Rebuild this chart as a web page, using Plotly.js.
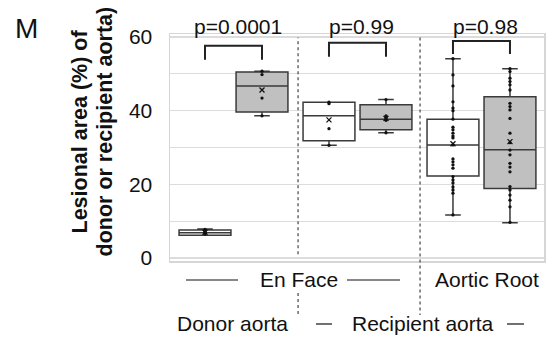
<!DOCTYPE html>
<html>
<head>
<meta charset="utf-8">
<script src="https://cdn.plot.ly/plotly-3.0.1.min.js"></script>
<style>
  html, body { margin: 0; padding: 0; background: #fff; }
  #chart { width: 552px; height: 339px; }
</style>
</head>
<body>
<div id="chart"></div>
<script>
// Box order: (donor aorta, en face) open/shaded, (recipient aorta, en face) open/shaded,
// (recipient aorta, aortic root) open/shaded
const groupIndex = [0, 0, 1, 1, 2, 2];
const memberIndex = [0, 1, 0, 1, 0, 1];
const boxFill = ['#ffffff', '#c0c0c0', '#ffffff', '#c0c0c0', '#ffffff', '#c0c0c0'];

// Summary statistics (% lesional area)
const q1Values = [6.2, 39.6, 31.8, 34.8, 22.3, 18.9];
const medianValues = [6.9, 46.7, 38.6, 37.7, 30.7, 29.4];
const q3Values = [7.6, 50.5, 42.3, 41.6, 37.7, 43.8];
const lowerValues = [6.2, 38.6, 30.6, 34.0, 11.7, 9.6];
const upperValues = [7.9, 50.7, 42.3, 43.0, 54.1, 51.4];
const meanValues = [7.0, 45.6, 37.5, 37.9, 31.0, 31.6];

// Individual animals
const pointsDonorOpen = [6.5, 6.9, 7.2, 7.8];
const pointsDonorShaded = [38.6, 43.4, 49.8, 50.7];
const pointsEnFaceOpen = [30.6, 35.1, 41.9, 42.3];
const pointsEnFaceShaded = [34.0, 37.4, 37.8, 38.3, 38.6, 43.0];
const pointsRootOpen = [54.1, 49.7, 46.7, 42.4, 40.7, 40.0, 37.7, 35.5, 34.8, 33.9, 33.1, 32.6,
  30.7, 26.9, 26.1, 25.3, 24.4, 22.1, 21.2, 20.4, 19.3, 18.5, 17.6, 11.7];
const pointsRootShaded = [51.4, 50.6, 48.8, 47.9, 47.0, 45.6, 42.0, 41.1, 40.2, 37.9, 33.9, 31.3,
  29.3, 28.0, 25.7, 24.7, 23.4, 19.4, 18.5, 17.1, 15.7, 13.9, 9.7];
const pointSets = [pointsDonorOpen, pointsDonorShaded, pointsEnFaceOpen,
  pointsEnFaceShaded, pointsRootOpen, pointsRootShaded];

// Comparisons between the two boxes of each pair
const pLabels = ['p=0.0001', 'p=0.99', 'p=0.98'];
const bracketTop = [57.6, 58.4, 58.9];
const bracketLeg = [53.8, 54.6, 55.4];

const yTicks = [0, 20, 40, 60];
const yMinorTicks = [10, 30, 50];
const yTitleLines = ['Lesional area (%) of', 'donor or recipient aorta)'];

// ---- layout helpers ----
const GROUP_STEP = 2.175;
const pos = groupIndex.map((g, i) => g * GROUP_STEP + memberIndex[i]);
const FONT = 'Liberation Sans, Arial, Helvetica, sans-serif';
const EDGE = '#3a3a3a';

const traces = [];
pos.forEach((x, i) => {
  traces.push({
    type: 'box', orientation: 'v',
    x: [x], q1: [q1Values[i]], median: [medianValues[i]], q3: [q3Values[i]],
    lowerfence: [lowerValues[i]], upperfence: [upperValues[i]],
    boxpoints: false, width: 0.91, whiskerwidth: 0.3,
    fillcolor: boxFill[i], line: { color: EDGE, width: 1.5 },
    hoverinfo: 'skip'
  });
});
pos.forEach((x, i) => {
  traces.push({
    type: 'scatter', mode: 'markers',
    x: pointSets[i].map(() => x), y: pointSets[i],
    marker: { size: 3.3, color: '#111' }, hoverinfo: 'skip'
  });
  traces.push({
    type: 'scatter', mode: 'markers',
    x: [x], y: [meanValues[i]],
    marker: { symbol: 'x-thin-open', size: 5, color: '#111', line: { width: 1.3, color: '#111' } },
    hoverinfo: 'skip'
  });
});

const shapes = [];
const annotations = [];

// comparison brackets and p-values
for (let g = 0; g < 3; g++) {
  const a = g * GROUP_STEP, b = a + 1;
  shapes.push({
    type: 'path', xref: 'x', yref: 'y',
    path: `M ${a} ${bracketLeg[g]} L ${a} ${bracketTop[g]} L ${b} ${bracketTop[g]} L ${b} ${bracketLeg[g]}`,
    line: { color: '#222', width: 2 }
  });
  annotations.push({
    xref: 'x', yref: 'paper', x: (a + b) / 2, y: 1.031, xshift: 4,
    text: pLabels[g], showarrow: false, xanchor: 'center', yanchor: 'middle',
    font: { family: FONT, size: 21, color: '#111' }
  });
}

// dotted separators between sections
const sep1 = (1 + GROUP_STEP) / 2 + 0.045;
const sep2 = GROUP_STEP + 1 + (GROUP_STEP - 1) / 2 + 0.01;
const dotted = { color: '#444', width: 1.2, dash: 'dot' };
shapes.push({ type: 'line', xref: 'x', yref: 'paper', x0: sep1, x1: sep1, y0: 0.03, y1: 0.985, line: dotted });
shapes.push({ type: 'line', xref: 'x', yref: 'paper', x0: sep1, x1: sep1, y0: -0.141, y1: -0.247, line: dotted });
shapes.push({ type: 'line', xref: 'x', yref: 'paper', x0: sep2, x1: sep2, y0: 0.985, y1: -0.238, line: dotted });

// section rules beside the category labels
const rule = { color: '#111', width: 1.2 };
[[-0.333, 0.579, -0.0837], [2.491, 3.421, -0.0837], [1.947, 2.228, -0.2775], [5.298, 5.596, -0.2775]]
  .forEach(([x0, x1, y]) => shapes.push({ type: 'line', xref: 'x', yref: 'paper', x0, x1, y0: y, y1: y, line: rule }));

const catFont = { family: FONT, size: 21, color: '#111' };
[['En Face', 1.649, -0.0837], ['Aortic Root', 4.947, -0.0837],
 ['Donor aorta', 0.482, -0.2775], ['Recipient aorta', 3.816, -0.2775]]
  .forEach(([t, x, y]) => annotations.push({
    xref: 'x', yref: 'paper', x, y, text: t, showarrow: false,
    xanchor: 'center', yanchor: 'middle', font: catFont
  }));

// y-axis title, one annotation per line
yTitleLines.forEach((t, k) => annotations.push({
  xref: 'paper', yref: 'paper', x: 0, y: 0.5705, xshift: -90 + 25 * k,
  text: t, textangle: -90, showarrow: false, xanchor: 'center', yanchor: 'middle',
  font: { family: FONT, size: 21.5, color: '#111', weight: 'bold' }
}));
// panel letter
annotations.push({
  xref: 'paper', yref: 'paper', x: -0.3837, y: 1.026, text: 'M', showarrow: false,
  xanchor: 'center', yanchor: 'middle', font: { family: FONT, size: 28, color: '#111' }
});

const layout = {
  width: 552, height: 339,
  margin: { l: 170, r: 8, t: 34, b: 78 },
  paper_bgcolor: '#fff', plot_bgcolor: '#fff',
  showlegend: false,
  xaxis: {
    range: [-0.614, 5.947], showgrid: false, zeroline: false, showticklabels: false,
    ticks: '', showline: true, mirror: true, linecolor: '#d6d6d6', linewidth: 1.5
  },
  yaxis: {
    range: [-0.8, 60.8], tickvals: yTicks, ticktext: yTicks.map(String),
    showgrid: true, gridcolor: '#dcdcdc', gridwidth: 1.3,
    minor: { tickvals: yMinorTicks, showgrid: true, gridcolor: '#dcdcdc', gridwidth: 1.3 },
    zeroline: false, showline: true, mirror: true, linecolor: '#d6d6d6', linewidth: 1.5,
    ticks: '', ticklabelstandoff: 12,
    tickfont: { family: FONT, size: 21, color: '#111' }
  },
  shapes, annotations
};

Plotly.newPlot('chart', traces, layout, { staticPlot: true, displayModeBar: false });
</script>
</body>
</html>
